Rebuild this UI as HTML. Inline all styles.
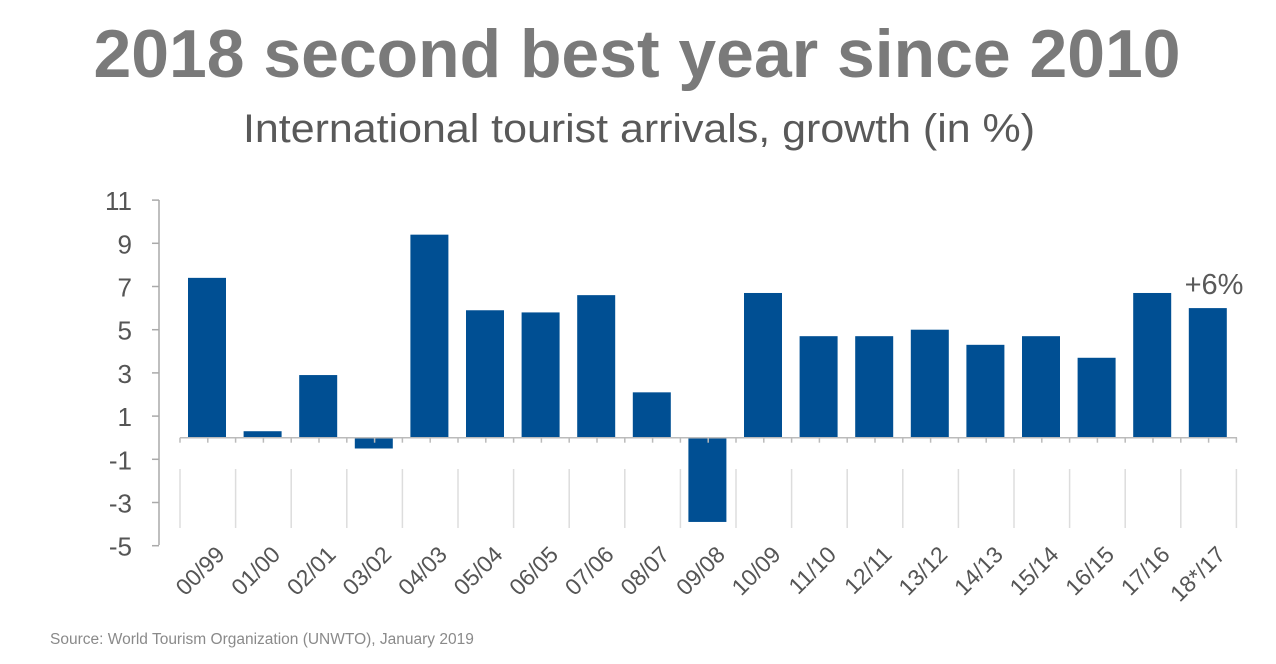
<!DOCTYPE html><html><head><meta charset="utf-8"><style>body{margin:0;background:#fff;width:1276px;height:659px;overflow:hidden}</style></head><body>
<svg width="1276" height="659" xmlns="http://www.w3.org/2000/svg" font-family="Liberation Sans, sans-serif">
<text x="637" y="77" text-anchor="middle" font-size="68" font-weight="bold" fill="#7a7a7a" textLength="1087" lengthAdjust="spacingAndGlyphs">2018 second best year since 2010</text>
<text x="639" y="142" text-anchor="middle" font-size="40" fill="#595959" textLength="792" lengthAdjust="spacingAndGlyphs">International tourist arrivals, growth (in %)</text>
<g id="g"></g>
<text x="50" y="644" font-size="15.5" fill="#8a8a8a">Source: World  Tourism Organization (UNWTO), January 2019</text>
<text x="1214" y="294" text-anchor="middle" font-size="29" fill="#595959">+6%</text>
</svg>
<script>
const vals=[7.4,0.3,2.9,-0.5,9.4,5.9,5.8,6.6,2.1,-3.9,6.7,4.7,4.7,5.0,4.3,4.7,3.7,6.7,6.0];
const labs=["00/99","01/00","02/01","03/02","04/03","05/04","06/05","07/06","08/07","09/08","10/09","11/10","12/11","13/12","14/13","15/14","16/15","17/16","18*/17"];
const z=437.7,u=21.6,s=55.6;let h='';
h+=`<line x1="159" y1="200" x2="159" y2="545" stroke="#aaa" stroke-width="1.5"/>`;
for(let v=11;v>=-5;v-=2){const y=z-v*u;h+=`<line x1="152" y1="${y}" x2="159" y2="${y}" stroke="#aaa" stroke-width="1.5"/><text x="132" y="${y+10}" text-anchor="end" font-size="26" fill="#555">${v}</text>`;}
for(let i=0;i<=19;i++){const x=180+i*s;h+=`<line x1="${x}" y1="469" x2="${x}" y2="528" stroke="#ddd" stroke-width="1.5"/>`;}
vals.forEach((v,i)=>{const x=188+i*s;const y=v>=0?z-v*u:z;h+=`<rect x="${x}" y="${y}" width="38" height="${Math.abs(v)*u}" fill="#004f93"/>`;
const lx=x+38,ly=556;h+=`<text transform="translate(${lx},${ly}) rotate(-45)" text-anchor="end" font-size="23" fill="#555">${labs[i]}</text>`;});
h+=`<line x1="180" y1="${z}" x2="1237" y2="${z}" stroke="#bbb" stroke-width="1.5"/>`;
for(let i=0;i<=38;i++){const x=180+i*s/2;h+=`<line x1="${x}" y1="${z}" x2="${x}" y2="${z+5}" stroke="#bbb" stroke-width="1.5"/>`;}
document.getElementById('g').innerHTML=h;
</script>
</body></html>
